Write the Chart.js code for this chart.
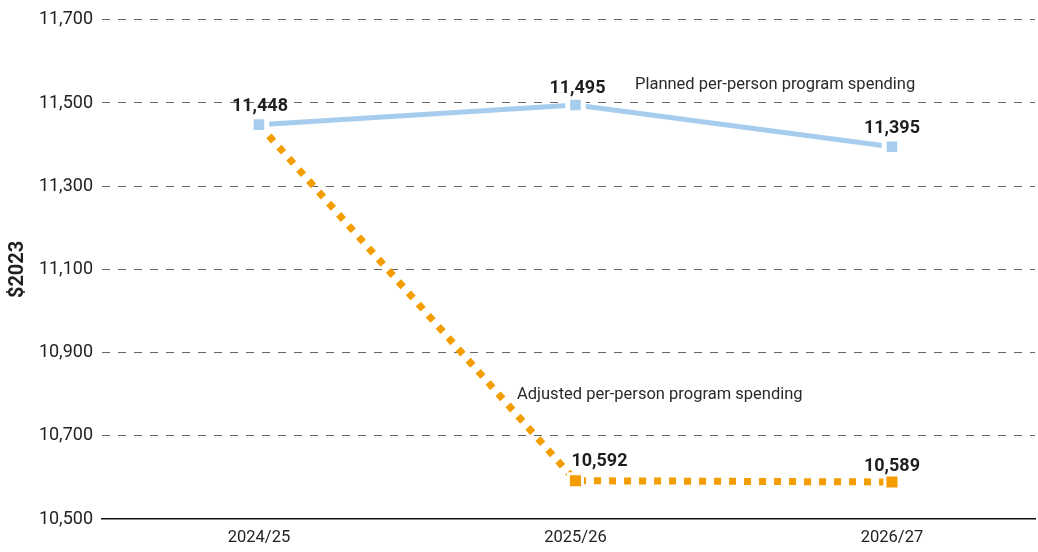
<!DOCTYPE html>
<html lang="en">
<head>
    <meta charset="UTF-8">
    <title>Per-person program spending</title>
    <script src="https://cdn.jsdelivr.net/npm/chart.js"></script>
    <style>
        html, body { margin: 0; background: #fff; overflow: hidden; }
        #wrap { width: 1038px; height: 552px; position: relative; }
    </style>
</head>
<body>
    <div id="wrap"><canvas id="lineChart"></canvas></div>
    <script>
        const years = ['2024/25', '2025/26', '2026/27'];
        const planned = [11448, 11495, 11395];
        const adjusted = [11448, 10592, 10589];
        const yTicks = [10500, 10700, 10900, 11100, 11300, 11500, 11700];
        const seriesNames = ['Planned per-person program spending', 'Adjusted per-person program spending'];

        const FONT = "Roboto, 'Liberation Sans', sans-serif";
        const BLUE = '#a6cdee';
        const ORANGE = '#f49d00';
        const fmt = v => v.toLocaleString('en-US');
        const values = [planned, adjusted];

        // value labels above points + series names
        const labelPlugin = {
            id: 'labels',
            afterDatasetsDraw(chart) {
                const ctx = chart.ctx;
                ctx.save();
                ctx.fillStyle = '#1e1e1e';
                ctx.textBaseline = 'alphabetic';
                ctx.textAlign = 'center';
                ctx.font = "bold 18px " + FONT;
                const dx = [[1, 2, 0], [0, 24, 0]];
                const dy = [[14, 12, 14], [0, 15, 11]];
                values.forEach((arr, di) => {
                    const meta = chart.getDatasetMeta(di);
                    meta.data.forEach((pt, i) => {
                        if (di === 1 && i === 0) return;
                        ctx.fillText(fmt(arr[i]), pt.x + dx[di][i], pt.y - dy[di][i]);
                    });
                });
                ctx.font = "16.5px " + FONT;
                ctx.textAlign = 'left';
                ctx.fillStyle = '#2a2a2a';
                ctx.fillText(seriesNames[0], 635, 89);
                ctx.fillText(seriesNames[1], 517, 399);
                ctx.restore();
            }
        };

        new Chart(document.getElementById('lineChart'), {
            type: 'line',
            data: {
                datasets: [{
                    label: seriesNames[0],
                    data: planned.map((v, i) => ({ x: i, y: v })),
                    borderColor: BLUE,
                    borderWidth: 5,
                    pointStyle: 'rect',
                    pointRadius: 11,
                    pointBackgroundColor: BLUE,
                    pointBorderColor: '#fff',
                    pointBorderWidth: 5,
                    tension: 0
                }, {
                    label: seriesNames[1],
                    data: adjusted.map((v, i) => ({ x: i, y: v })),
                    borderColor: ORANGE,
                    borderWidth: 7,
                    borderDash: [7, 8],
                    pointStyle: 'rect',
                    pointRadius: [0, 10, 10],
                    pointBackgroundColor: ORANGE,
                    pointBorderColor: '#fff',
                    pointBorderWidth: 3,
                    tension: 0
                }]
            },
            options: {
                responsive: true,
                maintainAspectRatio: false,
                animation: false,
                layout: { autoPadding: false, padding: { top: 19, right: 3, left: 0, bottom: 0 } },
                plugins: { legend: { display: false }, tooltip: { enabled: false } },
                scales: {
                    x: {
                        type: 'linear',
                        min: -0.496,
                        max: 2.452,
                        afterBuildTicks: s => { s.ticks = years.map((_, i) => ({ value: i })); },
                        afterFit: s => { s.height = 33; s.paddingLeft = 0; s.paddingRight = 0; },
                        grid: { display: false, drawTicks: false },
                        border: { display: true, color: '#111', width: 1.5 },
                        ticks: {
                            callback: v => years[v],
                            color: '#222',
                            padding: 9,
                            maxRotation: 0,
                            font: { family: FONT, size: 16.5 }
                        }
                    },
                    y: {
                        min: 10500,
                        max: 11700,
                        afterBuildTicks: s => { s.ticks = yTicks.map(v => ({ value: v })); },
                        afterFit: s => { s.width = 102; },
                        border: { display: false, dash: [8, 8] },
                        grid: {
                            color: c => c.tick && c.tick.value === 10500 ? 'rgba(0,0,0,0)' : '#666',
                            drawTicks: false,
                            lineWidth: 1
                        },
                        ticks: {
                            callback: v => fmt(v),
                            color: '#222',
                            padding: 9,
                            font: { family: FONT, size: 18 }
                        },
                        title: {
                            display: true,
                            text: '$2023',
                            color: '#1e1e1e',
                            padding: { top: 6, bottom: 0 },
                            font: { family: FONT, size: 20, weight: 'bold' }
                        }
                    }
                }
            },
            plugins: [labelPlugin]
        });
    </script>
</body>
</html>
